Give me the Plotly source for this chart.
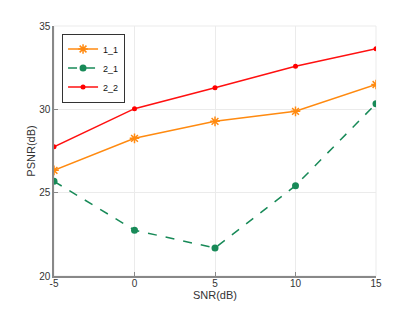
import plotly.graph_objects as go

snr = [-5, 0, 5, 10, 15]
snr_labels = ["-5", "0", "5", "10", "15"]
psnr_ticks = [20, 25, 30, 35]
s11 = [26.34, 28.26, 29.28, 29.88, 31.49]
s21 = [25.68, 22.75, 21.68, 25.42, 30.34]
s22 = [27.75, 30.04, 31.29, 32.59, 33.63]

fig = go.Figure()
fig.add_trace(go.Scatter(x=snr, y=s11, name="1_1", mode="lines+markers",
                         line=dict(color="#ff8a10", width=1.5),
                         marker=dict(symbol="asterisk-open", size=8, line=dict(color="#ff8a10", width=1.5))))
fig.add_trace(go.Scatter(x=snr, y=s21, name="2_1", mode="lines+markers",
                         line=dict(color="#188a58", width=1.5, dash="dash"),
                         marker=dict(symbol="circle", size=7, color="#188a58")))
fig.add_trace(go.Scatter(x=snr, y=s22, name="2_2", mode="lines+markers",
                         line=dict(color="#ff1010", width=1.5),
                         marker=dict(symbol="circle", size=5, color="#ff0000")))

fig.update_layout(
    width=407, height=304,
    margin=dict(l=46, r=39, t=15, b=28),
    paper_bgcolor="white", plot_bgcolor="white",
    font=dict(family="Liberation Sans, Arial, sans-serif", size=10, color="#333333"),
    showlegend=True,
    legend=dict(x=0.025, y=0.97, xanchor="left", yanchor="top",
                bordercolor="#333333", borderwidth=1, bgcolor="white",
                font=dict(size=9, color="#111111"),
                itemwidth=30, tracegroupgap=0),
    xaxis=dict(range=[-5, 15], tickvals=snr, ticktext=snr_labels, showgrid=True, gridcolor="#ebebeb",
               showline=True, linecolor="#888888", linewidth=1.5, ticks="inside", ticklen=4,
               tickcolor="#888888", zeroline=False, mirror=False, ticklabelstandoff=-3,
               title=dict(text="SNR(dB)", font=dict(size=11), standoff=4)),
    yaxis=dict(range=[20, 35], tickvals=psnr_ticks, showgrid=True, gridcolor="#ebebeb",
               showline=True, linecolor="#888888", linewidth=1.5, ticks="inside", ticklen=4,
               tickcolor="#888888", zeroline=False,
               title=dict(text="PSNR(dB)", font=dict(size=11), standoff=1)),
)
fig.add_shape(type="rect", xref="paper", yref="paper", x0=0, y0=0, x1=1, y1=1,
              line=dict(color="#ebebeb", width=1), layer="below")
fig.write_html("out.html")
